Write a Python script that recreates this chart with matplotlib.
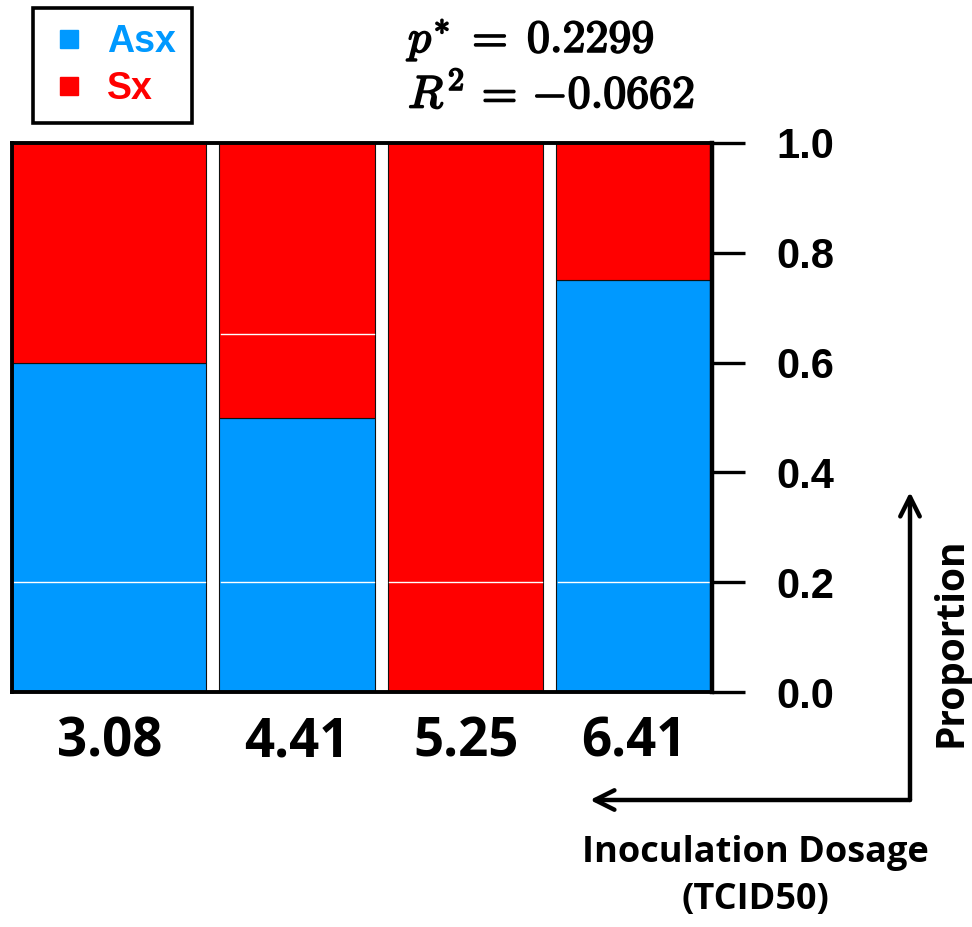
import matplotlib
matplotlib.use("Agg")
from matplotlib import pyplot as plt
from matplotlib.lines import Line2D
import matplotlib.patheffects as pe
import numpy as np

# dosage groups (log10 TCID50) and group sizes -> bar widths
dose_labels = ["3.08", "4.41", "5.25", "6.41"]
group_n = [5, 4, 4, 4]
asx_prop = [0.6, 0.5, 0.0, 0.75]
# thin white dividers inside each bar
dividers = [[0.2], [0.2, 0.652], [0.2], [0.2]]

p_star = 0.2299
r_squared = -0.0662

blue = "#0099ff"
red = "#ff0000"

fig = plt.figure(figsize=(9.72, 9.27), dpi=100)
W, H = 972, 927
ax = fig.add_axes([12 / W, (H - 692) / H, 700 / W, 549 / H])

gap = 13 / 700
usable = 1 - gap * (len(group_n) - 1)
widths = np.array(group_n) / sum(group_n) * usable
lefts = np.concatenate([[0], np.cumsum(widths + gap)[:-1]])
sx_prop = 1 - np.array(asx_prop)

ax.bar(lefts, asx_prop, width=widths, align="edge", color=blue,
       edgecolor="#111111", linewidth=0.8)
ax.bar(lefts, sx_prop, width=widths, bottom=asx_prop, align="edge",
       color=red, edgecolor="#111111", linewidth=0.8)
for l, w, ds in zip(lefts, widths, dividers):
    for d in ds:
        ax.plot([l + 0.002, l + w - 0.002], [d, d], color="white", lw=1.0)

ax.set_xlim(0, 1)
ax.set_ylim(0, 1)
for s in ax.spines.values():
    s.set_linewidth(2.8)
ax.spines["right"].set_linewidth(3.2)

ax.set_xticks(lefts + widths / 2)
ax.set_xticklabels(dose_labels, fontfamily="Open Sans", fontweight="bold",
                   fontsize=38)
ax.tick_params(axis="x", length=0, pad=17)

ax.yaxis.tick_right()
ax.set_yticks([0, 0.2, 0.4, 0.6, 0.8, 1.0])
ax.set_yticklabels(["0.0", "0.2", "0.4", "0.6", "0.8", "1.0"],
                   fontfamily="Liberation Sans", fontweight="bold", fontsize=30)
ax.tick_params(axis="y", length=24, width=2.4, pad=22)

# legend
handles = [Line2D([], [], ls="", marker="s", ms=13, color=blue),
           Line2D([], [], ls="", marker="s", ms=13, color=red)]
leg = fig.legend(handles, ["Asx", "Sx"], loc="upper left",
                 bbox_to_anchor=(33 / W, 1 - 8 / H), frameon=True,
                 framealpha=1, fancybox=False,
                 prop={"family": "Liberation Sans", "weight": "bold", "size": 27},
                 handletextpad=0.5, labelspacing=0.28, borderpad=0.43,
                 handlelength=1.05, borderaxespad=0)
leg.get_frame().set_edgecolor("black")
leg.get_frame().set_linewidth(2.6)
for t, c in zip(leg.get_texts(), [blue, red]):
    t.set_color(c)

# stats annotation
plt.rcParams["mathtext.fontset"] = "cm"
bold = [pe.withStroke(linewidth=1.3, foreground="black")]
fig.text(408 / W, 1 - 40 / H, r"$p^{*}\;=\;%.4f$" % p_star, ha="left",
         va="center", fontsize=33, path_effects=bold)
fig.text(408 / W, 1 - 95 / H, r"$R^{2}\,=\,{-}%.4f$" % abs(r_squared),
         ha="left", va="center", fontsize=33, path_effects=bold)

# axis direction arrows
arr = dict(arrowstyle="->", lw=3.2, color="black", mutation_scale=35,
           shrinkA=0, shrinkB=0)
corner = (910 / W, 1 - 800 / H)
fig.add_artist(plt.Annotation("", xy=(910 / W, 1 - 492 / H), xytext=corner,
                              xycoords="figure fraction", arrowprops=arr))
fig.add_artist(plt.Annotation("", xy=(590 / W, 1 - 800 / H), xytext=corner,
                              xycoords="figure fraction", arrowprops=arr))

fig.text(951 / W, 1 - 642 / H, "Proportion", rotation=90, ha="center",
         va="center", fontfamily="Open Sans", fontweight="bold", fontsize=28)
fig.text(755 / W, 1 - 853 / H, "Inoculation Dosage", ha="center",
         va="center", fontfamily="Open Sans", fontweight="bold", fontsize=26)
fig.text(755 / W, 1 - 900 / H, "(TCID50)", ha="center",
         va="center", fontfamily="Open Sans", fontweight="bold", fontsize=26)

fig.savefig("out.png", dpi=100)
